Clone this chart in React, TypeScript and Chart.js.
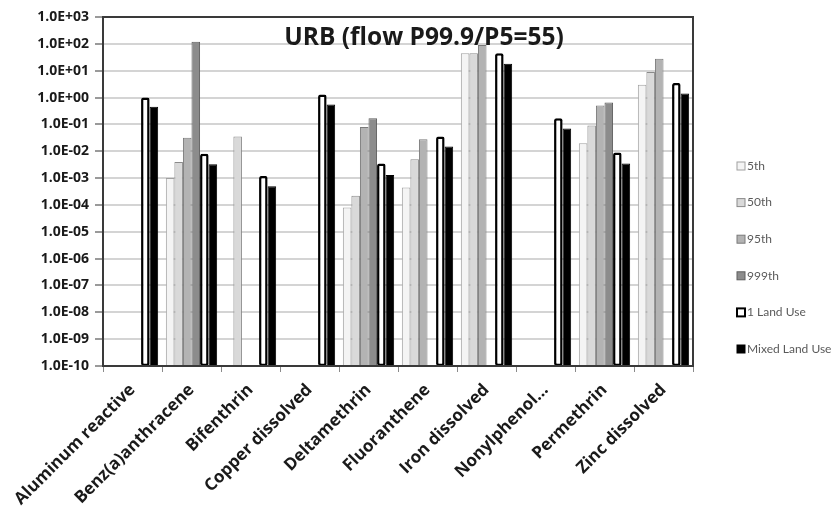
import { useEffect, useRef } from 'react';
import { Chart, registerables } from 'chart.js';

Chart.register(...registerables);

const categories = [
  'Aluminum reactive',
  'Benz(a)anthracene',
  'Bifenthrin',
  'Copper dissolved',
  'Deltamethrin',
  'Fluoranthene',
  'Iron dissolved',
  'Nonylphenol…',
  'Permethrin',
  'Zinc dissolved',
];

const seriesNames = ['5th', '50th', '95th', '999th', '1 Land Use', 'Mixed Land Use'];

const p5 = [null, 1.0e-3, null, null, 8e-5, 4.5e-4, 45, null, 0.02, 3];
const p50 = [null, 4e-3, 0.035, null, 2.2e-4, 5e-3, 45, null, 0.09, 9];
const p95 = [null, 0.032, null, null, 0.08, 0.028, 90, null, 0.5, 28];
const p999 = [null, 120, null, null, 0.17, null, null, null, 0.65, null];
const landUse1 = [1.0, 0.008, 0.0012, 1.3, 0.0035, 0.035, 45, 0.17, 0.009, 3.5];
const mixedLandUse = [0.45, 0.0033, 0.0005, 0.55, 0.0013, 0.015, 18, 0.07, 0.0035, 1.4];

const yTickExponents = [3, 2, 1, 0, -1, -2, -3, -4, -5, -6, -7, -8, -9, -10];

const titleText = 'URB (flow P99.9/P5=55)';

const fills = ['#f4f4f4', '#d9d9d9', '#b3b3b3', '#8c8c8c', '#ffffff', '#000000'];
const borders = ['#a0a0a0', '#8a8a8a', '#7a7a7a', '#5e5e5e', '#000000', '#000000'];
const borderWidths = [1, 1, 1, 1, 2.5, 1];

function fmtExp(v: number): string {
  const e = Math.round(Math.log10(v));
  return '1.0E' + (e >= 0 ? '+' : '-') + String(Math.abs(e)).padStart(2, '0');
}

const frameAndTitle = {
  id: 'frameAndTitle',
  afterDatasetsDraw(chart: any) {
    const { ctx, chartArea } = chart;
    ctx.save();
    ctx.strokeStyle = '#3a3a3a';
    ctx.lineWidth = 2;
    ctx.strokeRect(chartArea.left, chartArea.top, chartArea.right - chartArea.left, chartArea.bottom - chartArea.top);
    ctx.font = 'bold 24.5px "Open Sans"';
    ctx.fillStyle = '#1a1a1a';
    ctx.textAlign = 'center';
    ctx.textBaseline = 'middle';
    ctx.fillText(titleText, 424, 38);
    ctx.restore();
  },
  afterDraw(chart: any) {
    const { ctx } = chart;
    ctx.save();
    ctx.font = '12px Lato';
    ctx.textBaseline = 'middle';
    ctx.textAlign = 'left';
    seriesNames.forEach((name, i) => {
      const y = 166 + i * 36.6;
      const x = 737;
      ctx.fillStyle = fills[i];
      ctx.fillRect(x, y - 4, 8, 8);
      ctx.strokeStyle = borders[i];
      ctx.lineWidth = i === 4 ? 2 : 1;
      ctx.strokeRect(x, y - 4, 8, 8);
      ctx.fillStyle = '#5a5a5a';
      ctx.fillText(name, x + 10, y);
    });
    ctx.restore();
  },
};

export default function App() {
  const ref = useRef<HTMLCanvasElement>(null);

  useEffect(() => {
    if (!ref.current) return;
    const seriesData = [p5, p50, p95, p999, landUse1, mixedLandUse];
    const chart = new Chart(ref.current, {
      type: 'bar',
      data: {
        labels: categories,
        datasets: seriesData.map((d, i) => ({
          label: seriesNames[i],
          data: d,
          backgroundColor: fills[i],
          borderColor: borders[i],
          borderWidth: borderWidths[i],
          borderSkipped: false,
          borderRadius: i === 4 ? 2 : 0,
          categoryPercentage: 0.87,
          barPercentage: 1.0,
        })) as any,
      },
      options: {
        animation: false,
        responsive: false,
        maintainAspectRatio: false,
        layout: { padding: { top: 17, right: 141, left: 0, bottom: 0 } },
        plugins: {
          legend: { display: false },
          title: { display: false },
          tooltip: { enabled: false },
        },
        scales: {
          x: {
            afterFit(scale: any) {
              scale.height = 150;
            },
            grid: {
              display: true,
              drawOnChartArea: false,
              drawTicks: true,
              tickLength: 6,
              offset: true,
              color: '#8a8a8a',
            },
            border: { display: true, color: '#3a3a3a', width: 2 },
            ticks: {
              autoSkip: false,
              maxRotation: 45,
              minRotation: 45,
              padding: 8,
              color: '#1a1a1a',
              font: { family: '"Open Sans"', weight: 'bold', size: 17 },
            },
          },
          y: {
            type: 'logarithmic',
            min: 1e-10,
            max: 1e3,
            afterFit(scale: any) {
              scale.width = 103;
            },
            afterBuildTicks(scale: any) {
              scale.ticks = yTickExponents.map((e) => ({ value: Math.pow(10, e) }));
            },
            grid: {
              color: '#d4d4d4',
              lineWidth: 2,
              drawTicks: true,
              tickLength: 8,
              tickColor: '#9a9a9a',
            },
            border: { display: true, color: '#3a3a3a', width: 2 },
            ticks: {
              padding: 6,
              color: '#1a1a1a',
              font: { family: '"Open Sans"', weight: 'bold', size: 14 },
              callback: (v: any) => fmtExp(Number(v)),
            },
          },
        },
      },
      plugins: [frameAndTitle],
    });
    return () => chart.destroy();
  }, []);

  return (
    <div style={{ position: 'fixed', left: 0, top: 0, width: 834, height: 516, background: '#ffffff' }}>
      <canvas ref={ref} width={834} height={516} style={{ display: 'block', width: 834, height: 516 }} />
    </div>
  );
}
